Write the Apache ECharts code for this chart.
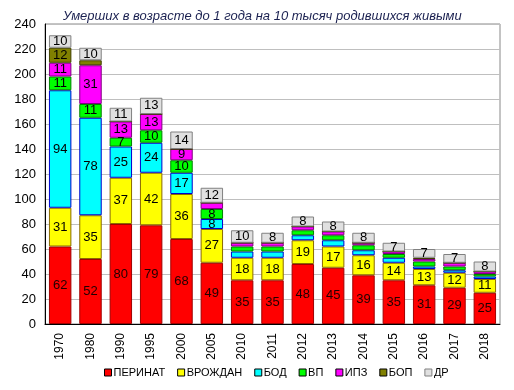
<!DOCTYPE html>
<html><head><meta charset="utf-8">
<script src="https://cdn.jsdelivr.net/npm/echarts@6/dist/echarts.min.js"></script>
<style>html,body{margin:0;padding:0;background:#fff}#c{width:514px;height:390px}</style>
</head><body><div id="c"></div>
<script>
const titleText = 'Умерших в возрасте до 1 года на 10 тысяч родившихся живыми';
const years = ['1970','1980','1990','1995','2000','2005','2010','2011','2012','2013','2014','2015','2016','2017','2018'];
const seriesNames = ['ПЕРИНАТ','ВРОЖДАН','БОД','ВП','ИПЗ','БОП','ДР'];
const perinat = [62,52,80,79,68,49,35,35,48,45,39,35,31,29,25];
const vrozhdan = [31,35,37,42,36,27,18,18,19,17,16,14,13,12,11];
const bod = [94,78,25,24,17,8,5,5,4,5,4,4,2,2,2];
const vp = [11,11,7,10,10,8,4,4,4,4,4,3,4,3,2];
const ipz = [11,31,13,13,9,5,3,3,3,3,2,2,2,3,2];
const bop = [12,4,0,0,0,0,0,0,0,0,0,0,1,0,0];
const dr = [10,10,11,13,14,12,10,8,8,8,8,7,7,7,8];
const yTicks = [0,20,40,60,80,100,120,140,160,180,200,220,240];

const values = [perinat, vrozhdan, bod, vp, ipz, bop, dr];
const fills = ['#FF0000','#FFFF00','#00FFFF','#00FF00','#FF00FF','#808000','#E0E0E0'];
const borders = ['#A00000','#8A6A00','#0000CC','#008000','#800080','#404000','#808080'];

const chart = echarts.init(document.getElementById('c'), null, {renderer:'canvas'});
chart.setOption({
  animation: false,
  title: {text: titleText, left: 58, top: 5,
    textStyle: {fontFamily: 'Arial, Liberation Sans', fontSize: 13, fontStyle: 'italic', fontWeight: 'normal', color: '#1A2050'}},
  grid: {left: 45, right: 14, top: 24, bottom: 66, show: true, borderColor: '#888', borderWidth: 1, backgroundColor: '#fff'},
  legend: {bottom: 7, left: 99, icon: 'rect', itemWidth: 7, itemHeight: 7, itemGap: 12,
    textStyle: {fontFamily: 'Arial, Liberation Sans', fontSize: 11, color: '#000', padding: [0,0,0,-3]},
    data: seriesNames.map((n,i)=>({name:n, itemStyle:{color:fills[i], borderColor: i===6?'#808080':'#000', borderWidth:1}}))},
  xAxis: {type: 'category', data: years,
    axisLine: {lineStyle: {color: '#000', width: 1}}, axisTick: {show: false},
    axisLabel: {rotate: 90, fontFamily: 'Arial, Liberation Sans', fontSize: 12, color: '#000', margin: 9}},
  yAxis: {type: 'value', min: yTicks[0], max: yTicks[yTicks.length-1], interval: 20,
    axisLine: {show: true, lineStyle: {color: '#000', width: 1}}, axisTick: {show: false},
    splitLine: {lineStyle: {color: '#BFBFBF', width: 1}},
    axisLabel: {fontFamily: 'Arial, Liberation Sans', fontSize: 13, color: '#000', margin: 9}},
  series: seriesNames.map((n,i)=>({
    name: n, type: 'bar', stack: 'all', data: values[i], barCategoryGap: '26%',
    itemStyle: {color: fills[i], borderColor: borders[i], borderWidth: 1},
    label: {show: true, position: 'inside',
      formatter: p => p.value >= 7 ? '{v|' + p.value + '}' : '',
      rich: {v: {fontFamily: 'Arial, Liberation Sans', fontSize: 13, color: i === 0 ? '#200000' : '#000', textBorderWidth: 0}}}
  }))
});
</script></body></html>
